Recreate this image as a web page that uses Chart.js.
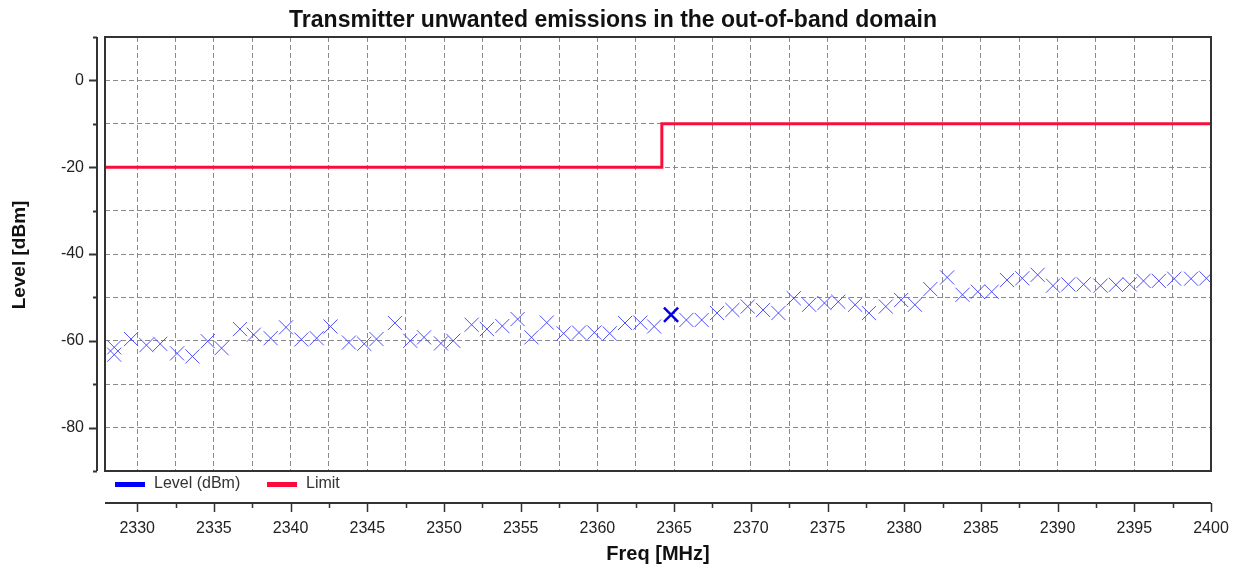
<!DOCTYPE html>
<html>
<head>
<meta charset="utf-8">
<script src="https://cdn.jsdelivr.net/npm/chart.js@4"></script>
<style>
  html, body { margin: 0; padding: 0; background: #fff; }
  #wrap { width: 1239px; height: 568px; }
</style>
</head>
<body>
<div id="wrap"><canvas id="myChart" width="1239" height="568"></canvas></div>
<script>
const levelFreq = [2328.5, 2328.5, 2329.6, 2330.6, 2331.5, 2332.6, 2333.6, 2334.6, 2335.5, 2336.7, 2337.6, 2338.7,
  2339.7, 2340.7, 2341.7, 2342.6, 2343.8, 2344.8, 2345.6, 2346.8, 2347.8, 2348.7,
  2349.8, 2350.6, 2351.8, 2352.8, 2353.8, 2354.8, 2355.7, 2356.7, 2357.8, 2358.8,
  2359.8, 2360.8, 2361.8, 2362.8, 2363.7, 2364.8, 2365.8, 2366.8, 2367.8, 2368.8,
  2369.8, 2370.8, 2371.8, 2372.8, 2373.8, 2374.8, 2375.7, 2376.8, 2377.7, 2378.8,
  2379.8, 2380.7, 2381.7, 2382.8, 2383.8, 2384.8, 2385.7, 2386.7, 2387.7, 2388.7,
  2389.7, 2390.7, 2391.7, 2392.8, 2393.8, 2394.7, 2395.6, 2396.6, 2397.6, 2398.7, 2399.7];
const levelValue = [-61.5, -63.2, -59.6, -61.0, -60.7, -62.9, -63.6, -60.1, -61.7, -57.3, -58.6, -59.4,
  -56.9, -59.7, -59.4, -56.7, -60.4, -60.7, -59.6, -55.9, -60.0, -59.2,
  -60.6, -60.0, -56.3, -57.3, -56.6, -55.0, -59.2, -55.8, -58.3, -58.1,
  -58.1, -58.3, -55.9, -55.8, -56.7, -54.0, -55.2, -55.2, -53.6, -52.9,
  -52.1, -52.9, -53.6, -50.2, -51.7, -51.3, -51.0, -51.7, -53.6, -52.1,
  -50.6, -51.7, -48.1, -45.4, -49.4, -48.7, -48.7, -46.0, -45.6, -44.8,
  -47.3, -47.0, -47.0, -47.3, -47.1, -47.0, -46.2, -46.2, -45.7, -45.7, -45.6];
const highlightFreq = 2364.8;

// limit mask
const limitFreq = [2327.9, 2364.2, 2364.2, 2400];
const limitValue = [-20, -20, -10, -10];

// axes
const xLabels = [2330, 2335, 2340, 2345, 2350, 2355, 2360, 2365, 2370, 2375, 2380, 2385, 2390, 2395, 2400];
const yLabels = [-80, -60, -40, -20, 0];

const BLUE = 'rgba(60,60,255,0.9)';
const RED = 'rgb(252,12,58)';
const AXIS = '#333';

const ctx = document.getElementById('myChart').getContext('2d');

// frame, offset axes, legend and titles
const decor = {
  id: 'decor',
  afterDraw(chart) {
    const c = chart.ctx, a = chart.chartArea;
    const xs = chart.scales.x, ys = chart.scales.y;
    c.save();
    c.strokeStyle = AXIS;
    c.lineWidth = 2;
    c.strokeRect(a.left, a.top, a.right - a.left, a.bottom - a.top);

    // y axis line, left of the plot
    const ax = 97;
    c.beginPath();
    c.moveTo(ax, a.top); c.lineTo(ax, a.bottom);
    for (let v = -90; v <= 10; v += 10) {
      const y = Math.round(ys.getPixelForValue(v)) + 0.5;
      const len = yLabels.includes(v) ? 8 : 4;
      c.moveTo(ax, y); c.lineTo(ax - len, y);
    }
    c.stroke();

    // x axis line, below the legend
    const ay = 503;
    c.beginPath();
    c.moveTo(a.left, ay); c.lineTo(a.right, ay);
    c.stroke();
    c.lineWidth = 1.5;
    c.beginPath();
    for (let v = 2330; v <= 2400; v += 2.5) {
      const x = Math.round(xs.getPixelForValue(v)) + 0.5;
      const len = xLabels.includes(v) ? 9 : 5;
      c.moveTo(x, ay); c.lineTo(x, ay + len);
    }
    c.stroke();

    // legend
    c.fillStyle = '#0000ff';
    c.fillRect(115, 482, 30, 5);
    c.fillStyle = RED;
    c.fillRect(267, 482, 30, 5);
    c.fillStyle = '#333';
    c.font = '16px "Liberation Sans"';
    c.textBaseline = 'middle';
    c.textAlign = 'left';
    c.fillText('Level (dBm)', 154, 484);
    c.fillText('Limit', 306, 484);

    // titles
    c.fillStyle = '#111';
    c.textAlign = 'center';
    c.font = 'bold 23px "Liberation Sans"';
    c.fillText('Transmitter unwanted emissions in the out-of-band domain', 613, 21);
    c.font = 'bold 20px "Liberation Sans"';
    c.fillText('Freq [MHz]', 658, 554);
    c.translate(20, 255);
    c.rotate(-Math.PI / 2);
    c.font = 'bold 19px "Liberation Sans"';
    c.fillText('Level [dBm]', 0, 0);
    c.restore();
  }
};

const myChart = new Chart(ctx, {
  type: 'scatter',
  data: {
    datasets: [{
      label: 'Level (dBm)',
      data: levelFreq.map((f, i) => ({ x: f, y: levelValue[i] })),
      showLine: false,
      pointStyle: 'crossRot',
      pointRadius: 10,
      pointHoverRadius: 10,
      pointBorderColor: levelFreq.map((f) => f === highlightFreq ? 'rgb(0,0,230)' : BLUE),
      pointBorderWidth: levelFreq.map((f) => f === highlightFreq ? 2.5 : 1),
      order: 2
    }, {
      label: 'Limit',
      data: limitFreq.map((f, i) => ({ x: f, y: limitValue[i] })),
      showLine: true,
      borderColor: RED,
      borderWidth: 3,
      pointRadius: 0,
      fill: false,
      tension: 0,
      order: 1
    }]
  },
  options: {
    responsive: false,
    animation: false,
    events: [],
    layout: { padding: { top: 37, right: 28, left: 0, bottom: 0 } },
    plugins: {
      legend: { display: false },
      title: { display: false },
      tooltip: { enabled: false }
    },
    scales: {
      x: {
        type: 'linear',
        min: 2327.9,
        max: 2400,
        afterFit: (s) => { s.height = 97; s.paddingLeft = 0; s.paddingRight = 0; },
        afterBuildTicks: (s) => {
          const t = [];
          for (let v = 2330; v <= 2400; v += 2.5) t.push({ value: v });
          s.ticks = t;
        },
        grid: { color: '#8a8a8a', lineWidth: 1, drawTicks: false },
        border: { display: false, dash: [5, 3] },
        ticks: {
          padding: 48,
          color: '#222',
          font: { family: '"Liberation Sans"', size: 16 },
          maxRotation: 0,
          autoSkip: false,
          callback: (v) => xLabels.includes(v) ? String(v) : ''
        }
      },
      y: {
        min: -90,
        max: 10,
        afterFit: (s) => { s.width = 105; s.paddingTop = 0; s.paddingBottom = 0; },
        afterBuildTicks: (s) => {
          const t = [];
          for (let v = -90; v <= 10; v += 10) t.push({ value: v });
          s.ticks = t;
        },
        grid: { color: '#8a8a8a', lineWidth: 1, drawTicks: false },
        border: { display: false, dash: [5, 3] },
        ticks: {
          padding: 21,
          color: '#222',
          font: { family: '"Liberation Sans"', size: 16 },
          autoSkip: false,
          callback: (v) => yLabels.includes(v) ? String(v) : ''
        }
      }
    }
  },
  plugins: [decor]
});
</script>
</body>
</html>
